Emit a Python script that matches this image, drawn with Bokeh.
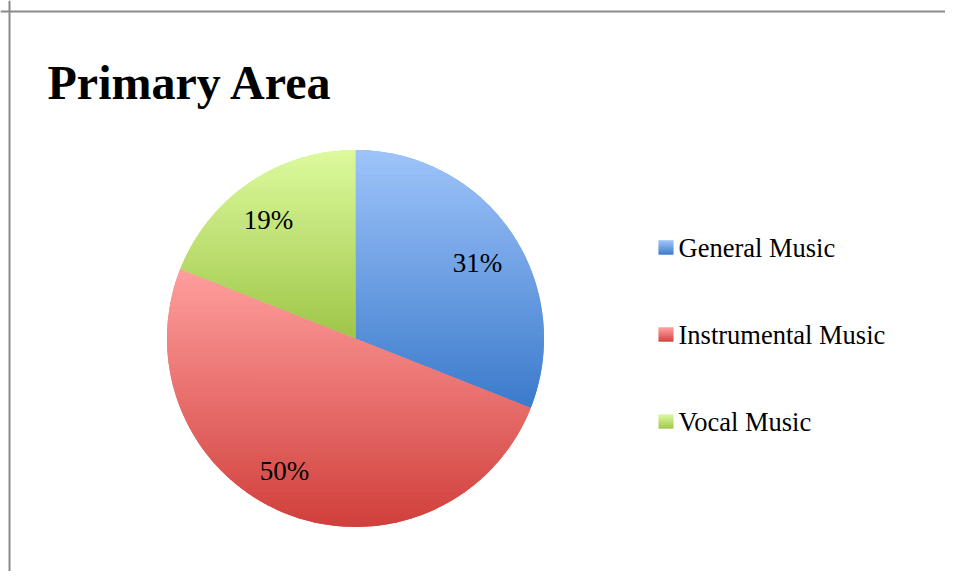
import math
from bokeh.plotting import figure
from bokeh.models import Range1d, Span, ColumnDataSource
from bokeh.core.properties import value
from bokeh.embed import file_html
from bokeh.resources import INLINE

# ---- data ----
title = "Primary Area"
categories = ["General Music", "Instrumental Music", "Vocal Music"]
shares = [31, 50, 19]
labels = ["31%", "50%", "19%"]
top_colors = ["#9EC4FA", "#FF9F9E", "#DDFA9E"]
bottom_colors = ["#3B7ACB", "#D03F3B", "#9EC648"]
mid_colors = ["#6C9FE3", "#E8706D", "#BEE073"]

W, H = 945, 571
p = figure(width=W, height=H, output_backend="svg", toolbar_location=None,
           x_range=Range1d(0, W), y_range=Range1d(0, H), min_border=0,
           match_aspect=False)
p.axis.visible = False
p.grid.visible = False
p.outline_line_color = None
p.background_fill_color = "white"
p.border_fill_color = "white"

OFF = 0


def px(x):  # page x -> data x
    return x - OFF


def py(y):  # page y -> data y
    return H + OFF - y


# border (top and left only visible)
p.add_layout(Span(location=px(9), dimension="height", line_color="#8A8A8A", line_width=2))
p.add_layout(Span(location=py(11), dimension="width", line_color="#8A8A8A", line_width=2))

# title
p.text(x=[px(47)], y=[py(82)], text=[title], text_font=value("Liberation Serif"),
       text_font_size="48px", text_font_style="bold", text_color="#000000",
       text_baseline="alphabetic", text_align="left")

# pie
cx, cy, R = px(355), py(338), 188.5
total = float(sum(shares))
starts, ends = [], []
a = math.pi / 2
for s in shares:
    starts.append(a)
    a = a - 2 * math.pi * s / total
    ends.append(a)

src = ColumnDataSource(dict(start=starts, end=ends, color=mid_colors))
p.wedge(x=cx, y=cy, radius=R, start_angle="end", end_angle="start",
        fill_color="color", line_color=None, source=src)


def hex2rgb(h):
    h = h.lstrip("#")
    return tuple(int(h[i:i + 2], 16) for i in (0, 2, 4))


def mix(c1, c2, t):
    a1, a2 = hex2rgb(c1), hex2rgb(c2)
    return "#%02x%02x%02x" % tuple(int(round(a1[i] + (a2[i] - a1[i]) * t)) for i in range(3))


def clip_poly(poly, ylo, yhi):
    def clip(pts, inside, inter):
        out = []
        n = len(pts)
        for i in range(n):
            cur, prev = pts[i], pts[i - 1]
            if inside(cur):
                if not inside(prev):
                    out.append(inter(prev, cur))
                out.append(cur)
            elif inside(prev):
                out.append(inter(prev, cur))
        return out

    def inter_y(yv):
        def f(a_, b_):
            t = (yv - a_[1]) / (b_[1] - a_[1])
            return (a_[0] + t * (b_[0] - a_[0]), yv)
        return f

    pts = clip(poly, lambda q: q[1] >= ylo, inter_y(ylo))
    if not pts:
        return []
    pts = clip(pts, lambda q: q[1] <= yhi, inter_y(yhi))
    return pts


# gradient overlay of each slice, built from the slice angles
xs_all, ys_all, cols_all = [], [], []
for st, en, ct, cb in zip(starts, ends, top_colors, bottom_colors):
    n = 120
    poly = [(cx, cy)]
    for k in range(n + 1):
        ang = st + (en - st) * k / n
        poly.append((cx + R * math.cos(ang), cy + R * math.sin(ang)))
    ymin = min(q[1] for q in poly)
    ymax = max(q[1] for q in poly)
    bands = 60
    hgt = (ymax - ymin) / bands
    for b in range(bands):
        ylo = ymin + b * hgt
        yhi = ylo + hgt + 0.6
        piece = clip_poly(poly, ylo, yhi)
        if len(piece) < 3:
            continue
        t = 1 - (b + 0.5) / bands  # 0 at top, 1 at bottom
        xs_all.append([q[0] for q in piece])
        ys_all.append([q[1] for q in piece])
        cols_all.append(mix(ct, cb, t))

p.patches(xs=xs_all, ys=ys_all, fill_color=cols_all, line_color=None)

# percentage labels
label_pos = [(477, 262), (284, 470), (268, 219)]
p.text(x=[px(q[0]) for q in label_pos], y=[py(q[1]) for q in label_pos], text=labels,
       text_font=value("Liberation Serif"), text_font_size="27px", text_color="#000000",
       text_align="center", text_baseline="middle")

# legend
leg_y = [247, 334, 421]
for cat, yv, ct, cb in zip(categories, leg_y, top_colors, bottom_colors):
    steps = 7
    for k in range(steps):
        t = (k + 0.5) / steps
        yy = py(yv - 7 + 14 * t)
        p.rect(x=[px(665.5)], y=[yy], width=15, height=14 / steps + 0.4,
               fill_color=mix(ct, cb, t), line_color=None)
    p.text(x=[px(678)], y=[py(yv)], text=[cat], text_font=value("Liberation Serif"),
           text_font_size="26.5px", text_color="#000000", text_align="left",
           text_baseline="middle")

open("out.html", "w").write(file_html(p, INLINE))
